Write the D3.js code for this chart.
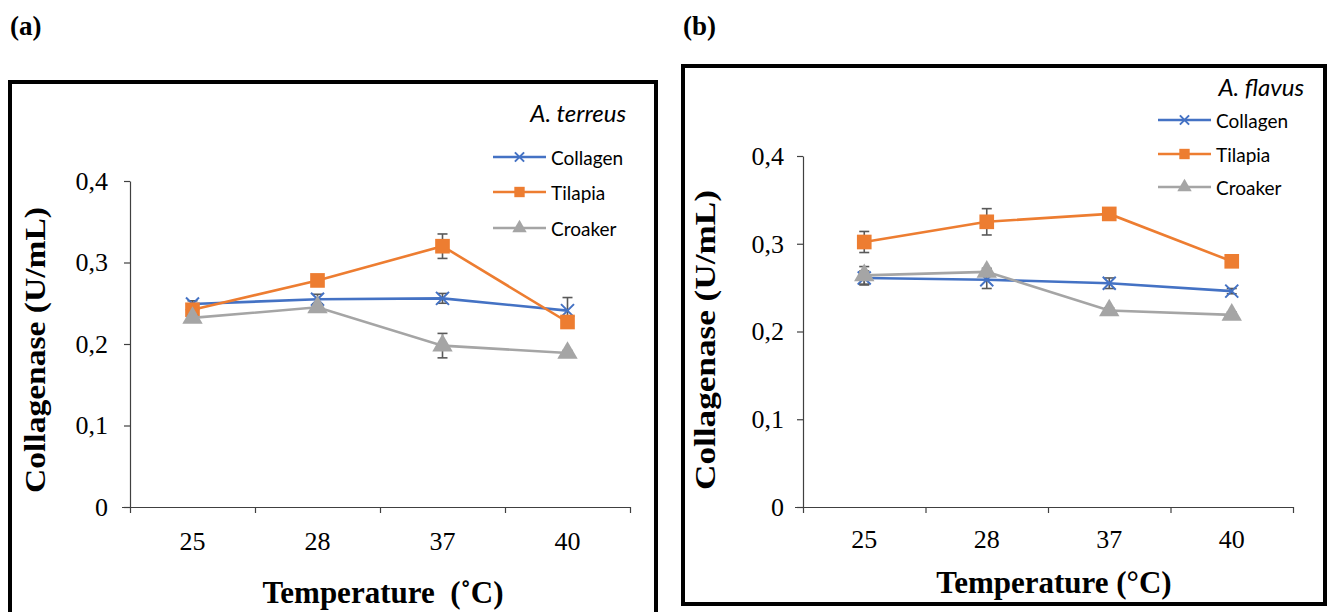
<!DOCTYPE html>
<html>
<head>
<meta charset="utf-8">
<script src="https://cdn.jsdelivr.net/npm/d3@7"></script>
<style>
  body { margin: 0; background: #fff; }
  svg { display: block; }
</style>
</head>
<body>
<div id="chart"></div>
<script>
// Collagenase activity vs temperature, two fungi

const temperatures = ["25", "28", "37", "40"];
const seriesNames = ["Collagen", "Tilapia", "Croaker"];
const yTicks = [0, 0.1, 0.2, 0.3, 0.4];

// (a) A. terreus
const terreusCollagen = [0.249, 0.255, 0.256, 0.241];
const terreusCollagenErr = [0.004, 0.006, 0.006, 0.016];
const terreusTilapia = [0.242, 0.278, 0.320, 0.227];
const terreusTilapiaErr = [0.004, 0.003, 0.015, 0.003];
const terreusCroaker = [0.232, 0.245, 0.198, 0.189];
const terreusCroakerErr = [0.003, 0.004, 0.015, 0.003];

// (b) A. flavus
const flavusCollagen = [0.261, 0.259, 0.255, 0.246];
const flavusCollagenErr = [0.008, 0.010, 0.006, 0.003];
const flavusTilapia = [0.302, 0.325, 0.334, 0.280];
const flavusTilapiaErr = [0.012, 0.015, 0.004, 0.003];
const flavusCroaker = [0.264, 0.268, 0.224, 0.219];
const flavusCroakerErr = [0.010, 0.004, 0.003, 0.003];

const colors = { Collagen: "#4472c4", Tilapia: "#ed7d31", Croaker: "#a5a5a5" };
const serif = "'Liberation Serif', 'Times New Roman', Times, serif";
const sans = "Lato, 'Open Sans', sans-serif";

const svg = d3.select("#chart").append("svg")
  .attr("width", 1330)
  .attr("height", 612);

function markerPath(name, scale) {
  scale = scale || 1;
  if (name === "Tilapia") return d3.symbol(d3.symbolSquare, 215 * scale)();
  if (name === "Croaker") return d3.symbol(d3.symbolTriangle, 180 * scale)();
  const r = 6.5 * Math.sqrt(scale);
  return `M${-r},${-r}L${r},${r}M${-r},${r}L${r},${-r}`;
}

function drawMarker(sel, name, scale) {
  sel.append("path")
    .attr("d", markerPath(name, scale))
    .attr("fill", name === "Collagen" ? "none" : colors[name])
    .attr("stroke", colors[name])
    .attr("stroke-width", name === "Collagen" ? 2 : 0);
}

function renderPanel(cfg, series) {
  const g = svg.append("g");

  // panel letter
  g.append("text")
    .attr("x", cfg.letterX).attr("y", 35)
    .attr("font-family", serif)
    .attr("font-weight", "bold")
    .attr("font-size", 27)
    .text(cfg.letter);

  // frame
  g.append("rect")
    .attr("x", cfg.frame[0]).attr("y", cfg.frame[1])
    .attr("width", cfg.frame[2] - cfg.frame[0])
    .attr("height", cfg.frame[3] - cfg.frame[1])
    .attr("fill", "none")
    .attr("stroke", "#000")
    .attr("stroke-width", 4);

  const x = d3.scaleBand().domain(temperatures).range([cfg.x0, cfg.x1]);
  const xEdges = d3.scaleLinear().domain([0, temperatures.length]).range([cfg.x0, cfg.x1]);
  const y = d3.scaleLinear().domain([0, 0.4]).range([cfg.yBottom, cfg.yTop]);
  const cx = d => x(d) + x.bandwidth() / 2;

  // y axis
  const yAxis = g.append("g")
    .attr("transform", `translate(${cfg.x0},0)`)
    .call(d3.axisLeft(y)
      .tickValues(yTicks)
      .tickSizeInner(6)
      .tickSizeOuter(0)
      .tickPadding(cfg.yPad)
      .tickFormat(d => d === 0 ? "0" : d3.format(".1f")(d).replace(".", ",")))
    .attr("font-family", serif)
    .attr("font-size", 26);
  yAxis.selectAll("path, line").attr("stroke", "#404040").attr("stroke-width", 1.2);
  yAxis.selectAll("text").attr("fill", "#000");

  // x axis: boundary ticks
  const xAxis = g.append("g")
    .attr("transform", `translate(0,${cfg.yBottom})`)
    .call(d3.axisBottom(xEdges)
      .tickValues(d3.range(0, temperatures.length + 1))
      .tickSizeInner(6)
      .tickSizeOuter(0)
      .tickFormat(""));
  xAxis.select(".domain").attr("d", `M${cfg.x0 - 8},0.5H${cfg.x1}`);
  xAxis.selectAll("path, line").attr("stroke", "#404040").attr("stroke-width", 1.2);

  // x labels
  const xLab = g.append("g")
    .attr("transform", `translate(0,${cfg.yBottom})`)
    .call(d3.axisBottom(x).tickSize(0).tickPadding(cfg.xPad))
    .attr("font-family", serif)
    .attr("font-size", 26);
  xLab.select(".domain").remove();
  xLab.selectAll("text").attr("fill", "#000");

  // axis titles
  g.append("text")
    .attr("transform", `translate(${cfg.yTitleX},${cfg.yTitleY}) rotate(-90)`)
    .attr("text-anchor", "middle")
    .attr("dominant-baseline", "middle")
    .attr("font-family", serif)
    .attr("font-weight", "bold")
    .attr("font-size", 30)
    .attr("textLength", cfg.yTitleLen)
    .attr("lengthAdjust", "spacingAndGlyphs")
    .text("Collagenase (U/mL)");

  g.append("text")
    .attr("x", cfg.xTitleX).attr("y", cfg.xTitleY)
    .attr("text-anchor", "middle")
    .attr("font-family", serif)
    .attr("font-weight", "bold")
    .attr("font-size", 31)
    .attr("xml:space", "preserve")
    .style("white-space", "pre")
    .text(cfg.xTitle);

  const line = d3.line()
    .x((d, i) => cx(temperatures[i]))
    .y(d => y(d));

  series.forEach(s => {
    const sg = g.append("g");
    sg.append("path")
      .datum(s.values)
      .attr("fill", "none")
      .attr("stroke", colors[s.name])
      .attr("stroke-width", 2.6)
      .attr("d", line);

    // error bars
    const eb = sg.selectAll(".err")
      .data(s.values.map((v, i) => ({ v, e: s.err[i], t: temperatures[i] })))
      .join("g")
      .attr("stroke", "#595959")
      .attr("stroke-width", 1.6);
    eb.append("line")
      .attr("x1", d => cx(d.t)).attr("x2", d => cx(d.t))
      .attr("y1", d => y(d.v - d.e)).attr("y2", d => y(d.v + d.e));
    eb.append("line")
      .attr("x1", d => cx(d.t) - 5).attr("x2", d => cx(d.t) + 5)
      .attr("y1", d => y(d.v + d.e)).attr("y2", d => y(d.v + d.e));
    eb.append("line")
      .attr("x1", d => cx(d.t) - 5).attr("x2", d => cx(d.t) + 5)
      .attr("y1", d => y(d.v - d.e)).attr("y2", d => y(d.v - d.e));

    s.values.forEach((v, i) => {
      const m = sg.append("g")
        .attr("transform", `translate(${cx(temperatures[i])},${y(v)})`);
      drawMarker(m, s.name, 1);
    });
  });

  // legend
  const lg = g.append("g");
  lg.append("text")
    .attr("x", cfg.legendTitleX).attr("y", cfg.legendTitleY)
    .attr("text-anchor", "end")
    .attr("font-family", sans)
    .attr("font-style", "italic")
    .attr("font-size", 24)
    .text(cfg.species);

  seriesNames.forEach((name, i) => {
    const item = lg.append("g").attr("transform", `translate(${cfg.legendX},${cfg.legendY[i]})`);
    item.append("line")
      .attr("x1", 0).attr("x2", 53)
      .attr("stroke", colors[name])
      .attr("stroke-width", 2.6);
    const m = item.append("g").attr("transform", "translate(26.5,0)");
    drawMarker(m, name, 0.5);
    item.append("text")
      .attr("x", 58).attr("y", 0)
      .attr("dominant-baseline", "central")
      .attr("font-family", sans)
      .attr("font-size", 19)
      .attr("fill", "#000")
      .text(name);
  });
}

renderPanel({
  letter: "(a)", letterX: 10,
  frame: [10, 82, 656, 618],
  x0: 130, x1: 630, yTop: 181, yBottom: 507,
  yPad: 16, xPad: 25,
  yTitleX: 38, yTitleY: 350, yTitleLen: 286,
  xTitleX: 383, xTitleY: 603,
  xTitle: "Temperature  (\u02DAC)",
  species: "A. terreus", legendTitleX: 626, legendTitleY: 122,
  legendX: 493, legendY: [157, 192, 228]
}, [
  { name: "Collagen", values: terreusCollagen, err: terreusCollagenErr },
  { name: "Tilapia", values: terreusTilapia, err: terreusTilapiaErr },
  { name: "Croaker", values: terreusCroaker, err: terreusCroakerErr }
]);

renderPanel({
  letter: "(b)", letterX: 683,
  frame: [683, 66, 1325, 604],
  x0: 803, x1: 1293, yTop: 156, yBottom: 507,
  yPad: 13, xPad: 23,
  yTitleX: 708, yTitleY: 340, yTitleLen: 300,
  xTitleX: 1054, xTitleY: 593,
  xTitle: "Temperature (\u00B0C)",
  species: "A. flavus", legendTitleX: 1304, legendTitleY: 96,
  legendX: 1158, legendY: [120, 154, 187]
}, [
  { name: "Collagen", values: flavusCollagen, err: flavusCollagenErr },
  { name: "Tilapia", values: flavusTilapia, err: flavusTilapiaErr },
  { name: "Croaker", values: flavusCroaker, err: flavusCroakerErr }
]);
</script>
</body>
</html>
